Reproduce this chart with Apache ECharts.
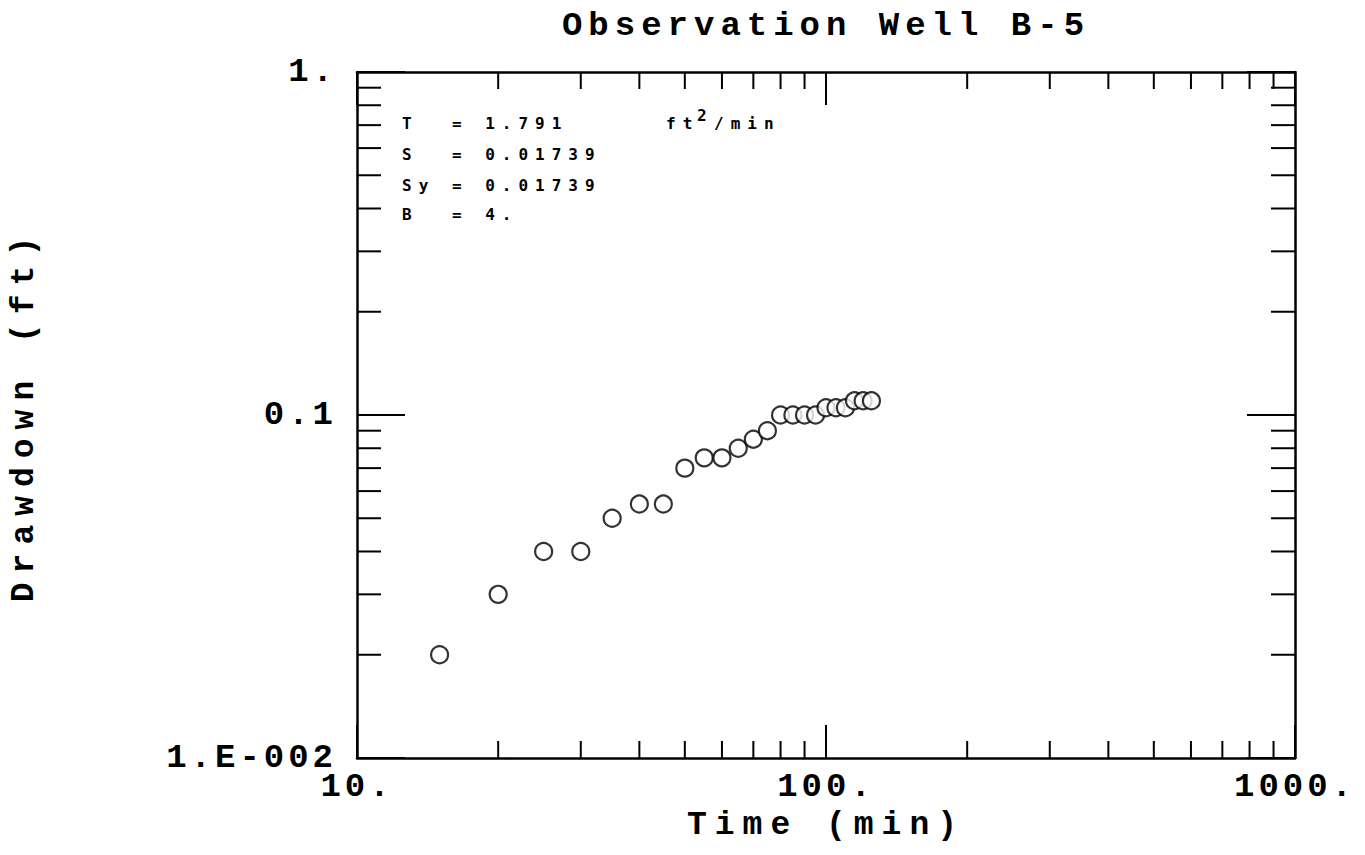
<!DOCTYPE html>
<html>
<head>
<meta charset="utf-8">
<title>Observation Well B-5</title>
<script src="https://cdn.jsdelivr.net/npm/echarts@6/dist/echarts.min.js"></script>
<style>
  html, body { margin: 0; padding: 0; background: #fff; }
  #chart { width: 1365px; height: 855px; }
</style>
</head>
<body>
<div id="chart"></div>
<script>
// time since pumping started (min) and drawdown (ft)
const times = [15, 20, 25, 30, 35, 40, 45, 50, 55, 60, 65, 70, 75, 80, 85, 90, 95, 100, 105, 110, 115, 120, 125]
const drawdown = [0.02, 0.03, 0.04, 0.04, 0.05, 0.055, 0.055, 0.07, 0.075, 0.075, 0.08, 0.085, 0.09, 0.1, 0.1, 0.1, 0.1, 0.105, 0.105, 0.105, 0.11, 0.11, 0.11]

const xTickValues = [10, 100, 1000]
const xTickLabels = ['10.', '100.', '1000.']
const yTickValues = [0.01, 0.1, 1]
const yTickLabels = ['1.E-002', '0.1', '1.']
const xMinorTicks = [20, 30, 40, 50, 60, 70, 80, 90, 200, 300, 400, 500, 600, 700, 800, 900]
const yMinorTicks = [0.02, 0.03, 0.04, 0.05, 0.06, 0.07, 0.08, 0.09, 0.2, 0.3, 0.4, 0.5, 0.6, 0.7, 0.8, 0.9]

const xMin = xTickValues[0]
const xMax = xTickValues[xTickValues.length - 1]
const yMin = yTickValues[0]
const yMax = yTickValues[yTickValues.length - 1]

const noteFont = 'bold 16px "DejaVu Sans Mono"'

// the plotter font is very wide, so texts get extra letter spacing (svg renderer)
const spacing = {
  'Observation Well B-5': 6,
  'Time (min)': 8,
  'Drawdown (ft)': 9
}
xTickLabels.concat(yTickLabels).forEach(function (s) { spacing[s] = 4 })
;['T  = 1.791', 'ft', '2', '/min', 'S  = 0.01739', 'Sy = 0.01739', 'B  = 4.'].forEach(function (s) { spacing[s] = 7 })

function pickLabel (values, labels, value) {
  for (let i = 0; i < values.length; i++) {
    if (Math.abs(Math.log10(values[i] / value)) < 1e-6) return labels[i]
  }
  return ''
}

function logAxis (min, max, extra) {
  return Object.assign({
    type: 'log',
    logBase: 10,
    min: min,
    max: max,
    axisLine: { show: true, lineStyle: { color: '#000', width: 2.5 } },
    splitLine: { show: false },
    minorTick: { show: false },
    minorSplitLine: { show: false }
  }, extra)
}

const lineStyle = { stroke: '#000', lineWidth: 2 }

const option = {
  backgroundColor: '#fff',
  animation: false,
  grid: { left: 357, right: 70, top: 72, bottom: 97 },
  xAxis: [
    logAxis(xMin, xMax, {
      position: 'bottom',
      name: 'Time (min)',
      nameLocation: 'middle',
      nameGap: 50,
      nameTextStyle: { fontFamily: 'Liberation Mono', fontWeight: 'bold', fontSize: 33, color: '#000' },
      axisTick: { inside: true, length: 33, lineStyle: { color: '#000', width: 2 } },
      axisLabel: {
        margin: 12,
        color: '#000',
        fontFamily: 'Liberation Mono',
        fontWeight: 'bold',
        fontSize: 34,
        formatter: function (v) { return pickLabel(xTickValues, xTickLabels, v) }
      }
    }),
    logAxis(xMin, xMax, {
      position: 'top',
      axisTick: { inside: true, length: 33, lineStyle: { color: '#000', width: 2 } },
      axisLabel: { show: false }
    })
  ],
  yAxis: [
    logAxis(yMin, yMax, {
      position: 'left',
      name: 'Drawdown (ft)',
      nameLocation: 'middle',
      nameGap: 316,
      nameRotate: 90,
      nameTextStyle: { fontFamily: 'Liberation Mono', fontWeight: 'bold', fontSize: 33, color: '#000' },
      axisTick: { inside: true, length: 48, lineStyle: { color: '#000', width: 2 } },
      axisLabel: {
        margin: 20,
        color: '#000',
        fontFamily: 'Liberation Mono',
        fontWeight: 'bold',
        fontSize: 34,
        formatter: function (v) { return pickLabel(yTickValues, yTickLabels, v) }
      }
    }),
    logAxis(yMin, yMax, {
      position: 'right',
      axisTick: { inside: true, length: 48, lineStyle: { color: '#000', width: 2 } },
      axisLabel: { show: false }
    })
  ],
  graphic: [
    { type: 'text', x: 826, y: 26, style: { text: 'Observation Well B-5', font: 'bold 34px "Liberation Mono"', fill: '#000', textAlign: 'center', textVerticalAlign: 'middle' } },
    { type: 'text', x: 402, y: 123, style: { text: 'T  = 1.791', font: noteFont, fill: '#000', textVerticalAlign: 'middle' } },
    { type: 'text', x: 666, y: 123, style: { text: 'ft', font: noteFont, fill: '#000', textVerticalAlign: 'middle' } },
    { type: 'text', x: 697, y: 115, style: { text: '2', font: noteFont, fill: '#000', textVerticalAlign: 'middle' } },
    { type: 'text', x: 714, y: 123, style: { text: '/min', font: noteFont, fill: '#000', textVerticalAlign: 'middle' } },
    { type: 'text', x: 402, y: 154, style: { text: 'S  = 0.01739', font: noteFont, fill: '#000', textVerticalAlign: 'middle' } },
    { type: 'text', x: 402, y: 185, style: { text: 'Sy = 0.01739', font: noteFont, fill: '#000', textVerticalAlign: 'middle' } },
    { type: 'text', x: 402, y: 214, style: { text: 'B  = 4.', font: noteFont, fill: '#000', textVerticalAlign: 'middle' } }
  ],
  series: [
    {
      name: 'Drawdown',
      type: 'scatter',
      symbol: 'circle',
      symbolSize: 17,
      itemStyle: { color: '#fff', borderColor: '#000', borderWidth: 2.2 },
      data: times.map(function (t, i) { return [t, drawdown[i]] }),
      z: 5
    },
    {
      // minor ticks on bottom and top
      type: 'custom',
      silent: true,
      data: xMinorTicks.map(function (v) { return [v, yMin] }),
      renderItem: function (params, api) {
        const v = api.value(0)
        const b = api.coord([v, yMin])
        const t = api.coord([v, yMax])
        return {
          type: 'group',
          children: [
            { type: 'line', shape: { x1: b[0], y1: b[1], x2: b[0], y2: b[1] - 17 }, style: lineStyle },
            { type: 'line', shape: { x1: t[0], y1: t[1], x2: t[0], y2: t[1] + 17 }, style: lineStyle }
          ]
        }
      }
    },
    {
      // minor ticks on left and right
      type: 'custom',
      silent: true,
      data: yMinorTicks.map(function (v) { return [xMin, v] }),
      renderItem: function (params, api) {
        const v = api.value(1)
        const l = api.coord([xMin, v])
        const r = api.coord([xMax, v])
        return {
          type: 'group',
          children: [
            { type: 'line', shape: { x1: l[0], y1: l[1], x2: l[0] + 24, y2: l[1] }, style: lineStyle },
            { type: 'line', shape: { x1: r[0], y1: r[1], x2: r[0] - 24, y2: r[1] }, style: lineStyle }
          ]
        }
      }
    }
  ]
}

const chart = echarts.init(document.getElementById('chart'), null, { renderer: 'svg' })
chart.setOption(option)

function spaceText () {
  document.querySelectorAll('#chart text').forEach(function (el) {
    const s = spacing[el.textContent]
    if (s !== undefined) el.style.letterSpacing = s + 'px'
  })
}
chart.on('finished', spaceText)
spaceText()
setTimeout(spaceText, 50)
setTimeout(spaceText, 300)
</script>
</body>
</html>
